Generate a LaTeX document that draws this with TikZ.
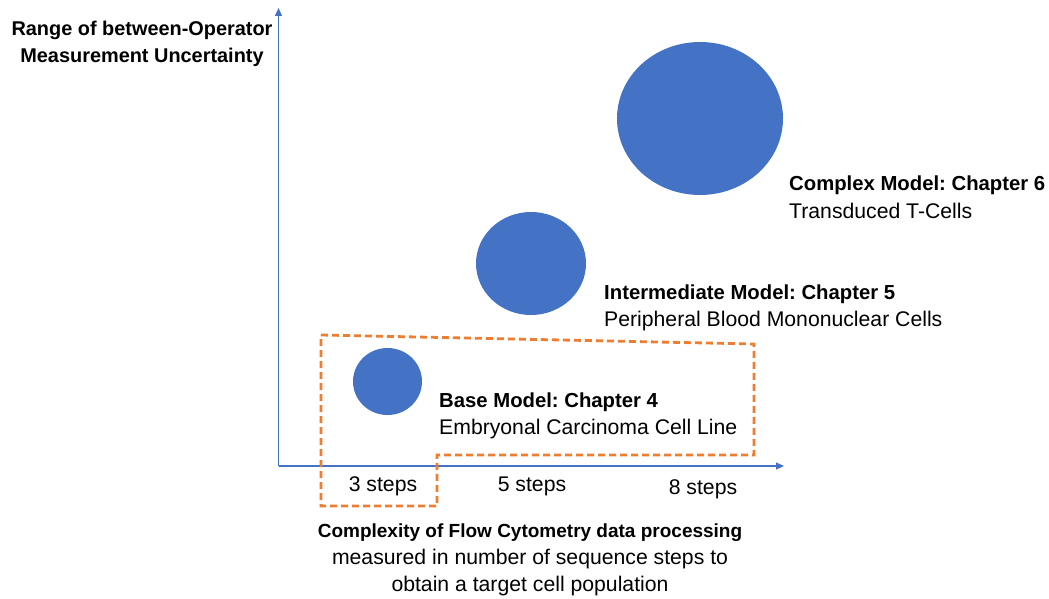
\documentclass[tikz,border=0pt]{standalone}
\usepackage{fontspec}
\setmainfont{Liberation Sans}
\usetikzlibrary{arrows.meta}
\definecolor{bubble}{HTML}{4472C4}
\definecolor{axisblue}{HTML}{4472C4}
\definecolor{frameorange}{HTML}{ED7D31}
\frenchspacing
\tikzset{
  axis/.style={draw=axisblue, line width=1.1pt, -{Triangle[length=8pt,width=7pt]}},
  bubble/.style={fill=bubble, draw=none},
  title/.style={inner sep=0pt, font=\fontsize{20.3}{24}\selectfont\bfseries},
  axistitle/.style={inner sep=0pt, font=\fontsize{19.5}{24}\selectfont\bfseries},
  body/.style={inner sep=0pt, font=\fontsize{21.2}{25}\selectfont},
  frame/.style={draw=frameorange, line width=2.8pt, dash pattern=on 7pt off 4pt, line join=miter},
}
\begin{document}
\begin{tikzpicture}[x=1pt, y=-1pt]
  \useasboundingbox (0,0) rectangle (1049,599);

  % axes
  \coordinate (origin) at (278.5,466);
  \coordinate (ytip) at (278.5,8);
  \coordinate (xtip) at (784,466);
  \draw[axis] (origin) -- (ytip);
  \draw[axis] (origin) -- (xtip);

  % y-axis title
  \node[axistitle, font=\fontsize{19.9}{24}\selectfont\bfseries, anchor=base] (ylab1) at (142,36) {Range of between-Operator};
  \node[axistitle, font=\fontsize{19.9}{24}\selectfont\bfseries, anchor=base] (ylab2) at (142,63) {Measurement Uncertainty};

  % bubbles
  \fill[bubble] (387.5,381.5) ellipse [x radius=34.5, y radius=33.5];
  \fill[bubble] (531,263.5) ellipse [x radius=55, y radius=51.5];
  \fill[bubble] (700,118.5) ellipse [x radius=83, y radius=76.5];

  % model labels
  \node[title, anchor=base west] (cplx) at (789,190) {Complex Model: Chapter 6};
  \node[body, anchor=base west] (cplxsub) at (789,218) {Transduced T-Cells};
  \node[title, anchor=base west] (inter) at (604,299) {Intermediate Model: Chapter 5};
  \node[body, anchor=base west] (intersub) at (604,326) {Peripheral Blood Mononuclear Cells};
  \node[title, anchor=base west] (base) at (439,407) {Base Model: Chapter 4};
  \node[body, anchor=base west] (basesub) at (439,434) {Embryonal Carcinoma Cell Line};

  % x-axis ticks
  \node[body, anchor=base] (s3) at (383,491) {3 steps};
  \node[body, anchor=base] (s5) at (532,491) {5 steps};
  \node[body, anchor=base] (s8) at (703,494) {8 steps};

  % x-axis title
  \node[axistitle, font=\fontsize{19}{24}\selectfont\bfseries, anchor=base] (xlab1) at (530,537) {Complexity of Flow Cytometry data processing};
  \node[body, anchor=base] (xlab2) at (530,564) {measured in number of sequence steps to};
  \node[body, anchor=base] (xlab3) at (530,591) {obtain a target cell population};

  % dashed outline around the base model
  \draw[frame] (321,335) -- (754,344) -- (754,455) -- (437,455) -- (437,506) -- (321,506) -- cycle;
\end{tikzpicture}
\end{document}
